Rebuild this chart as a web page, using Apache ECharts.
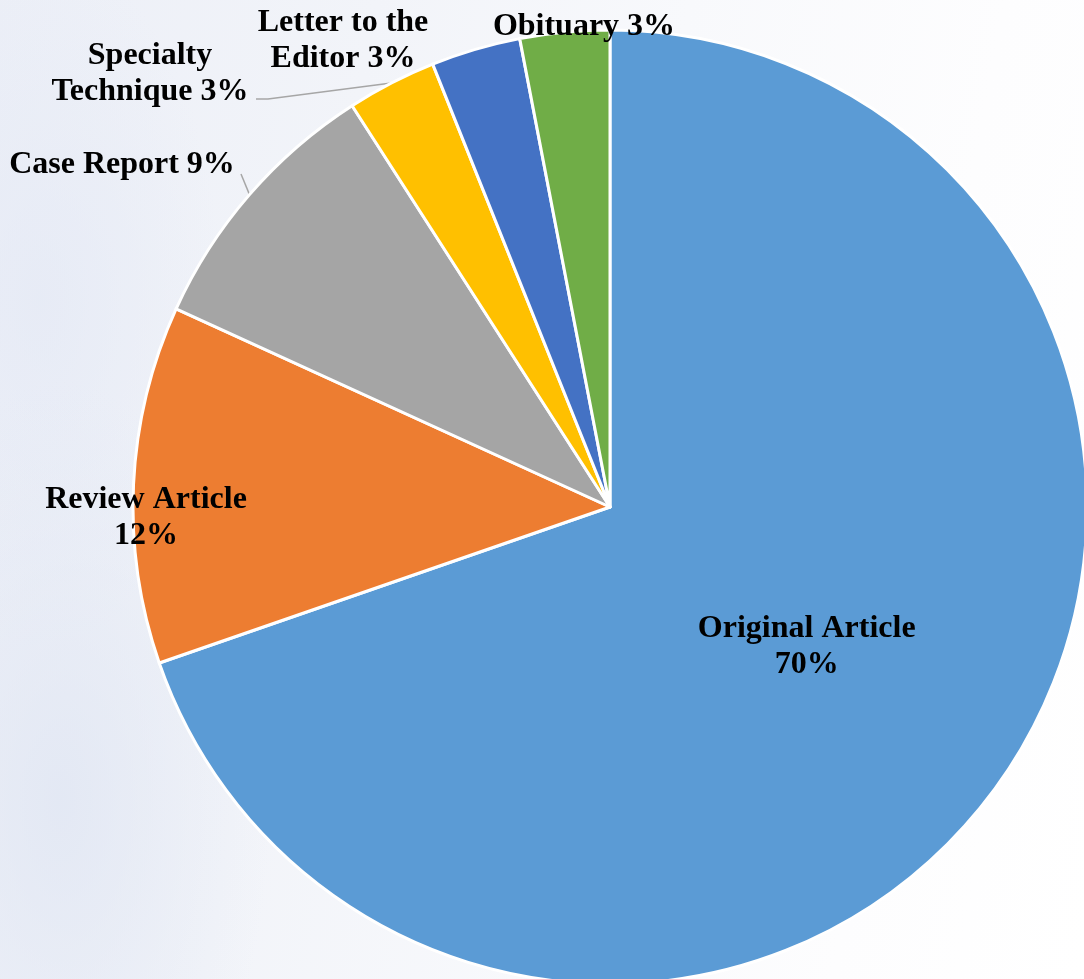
<!DOCTYPE html>
<html>
<head>
<meta charset="utf-8">
<script src="https://cdn.jsdelivr.net/npm/echarts@6/dist/echarts.min.js"></script>
<style>
html,body{margin:0;padding:0;width:1084px;height:979px;overflow:hidden;}
body{background:
 radial-gradient(ellipse 300px 600px at 60px 800px, rgba(224,230,243,0.8), rgba(224,230,243,0) 70%),
 radial-gradient(ellipse 260px 500px at 40px 300px, rgba(228,233,245,0.7), rgba(228,233,245,0) 70%),
 linear-gradient(100deg, #eceff7 0%, #f2f4f9 30%, #f8f9fc 55%, #fdfdfe 80%, #ffffff 100%);}
#c{width:1084px;height:979px;}
</style>
</head>
<body>
<div id="c"></div>
<script>
// Data
const categories = ['Original Article', 'Review Article', 'Case Report', 'Specialty Technique', 'Letter to the Editor', 'Obituary'];
const counts = [23, 4, 3, 1, 1, 1];

// Styling / layout (not data)
const colors = ['#5B9BD5', '#ED7D31', '#A5A5A5', '#FFC000', '#4472C4', '#70AD47'];
const labelText = [
  'Original Article\n{d}%',
  'Review Article\n{d}%',
  'Case Report {d}%',
  'Specialty\nTechnique {d}%',
  'Letter to the\nEditor {d}%',
  'Obituary {d}%'
];
const labelPos = [null, [146, 518], [122, 165], [150, 74], [343, 41], [584, 27]];
const showLine = [false, false, true, true, false, false];
// leader line end points near the label (the start is taken from the slice edge)
const lineEnds = [null, null, [[241, 174]], [[268, 99], [256, 99]], null, null];

const chart = echarts.init(document.getElementById('c'), null, {renderer: 'canvas'});
chart.setOption({
  backgroundColor: 'transparent',
  animation: false,
  series: [{
    type: 'pie',
    center: [610, 507],
    radius: 477,
    startAngle: 90,
    clockwise: true,
    percentPrecision: 0,
    avoidLabelOverlap: false,
    itemStyle: {borderColor: '#ffffff', borderWidth: 3},
    label: {
      fontFamily: '"Liberation Serif", "Times New Roman", serif',
      fontWeight: 'bold',
      fontSize: 32,
      lineHeight: 36,
      color: '#000000',
      align: 'center'
    },
    labelLine: {lineStyle: {color: '#a6a6a6', width: 1.5}, length: 10, length2: 10},
    data: categories.map((n, i) => ({
      name: n,
      value: counts[i],
      itemStyle: {color: colors[i]},
      label: {
        position: i <= 1 ? 'inside' : 'outside',
        formatter: labelText[i],
        align: 'center'
      },
      labelLine: {show: showLine[i]}
    })),
    labelLayout: function (p) {
      const pos = labelPos[p.dataIndex];
      if (!pos) return {};
      const out = {x: pos[0], y: pos[1], align: 'center', verticalAlign: 'middle'};
      const ends = lineEnds[p.dataIndex];
      if (ends && p.labelLinePoints) {
        out.labelLinePoints = [p.labelLinePoints[0]].concat(ends);
      }
      return out;
    }
  }]
});
</script>
</body>
</html>
